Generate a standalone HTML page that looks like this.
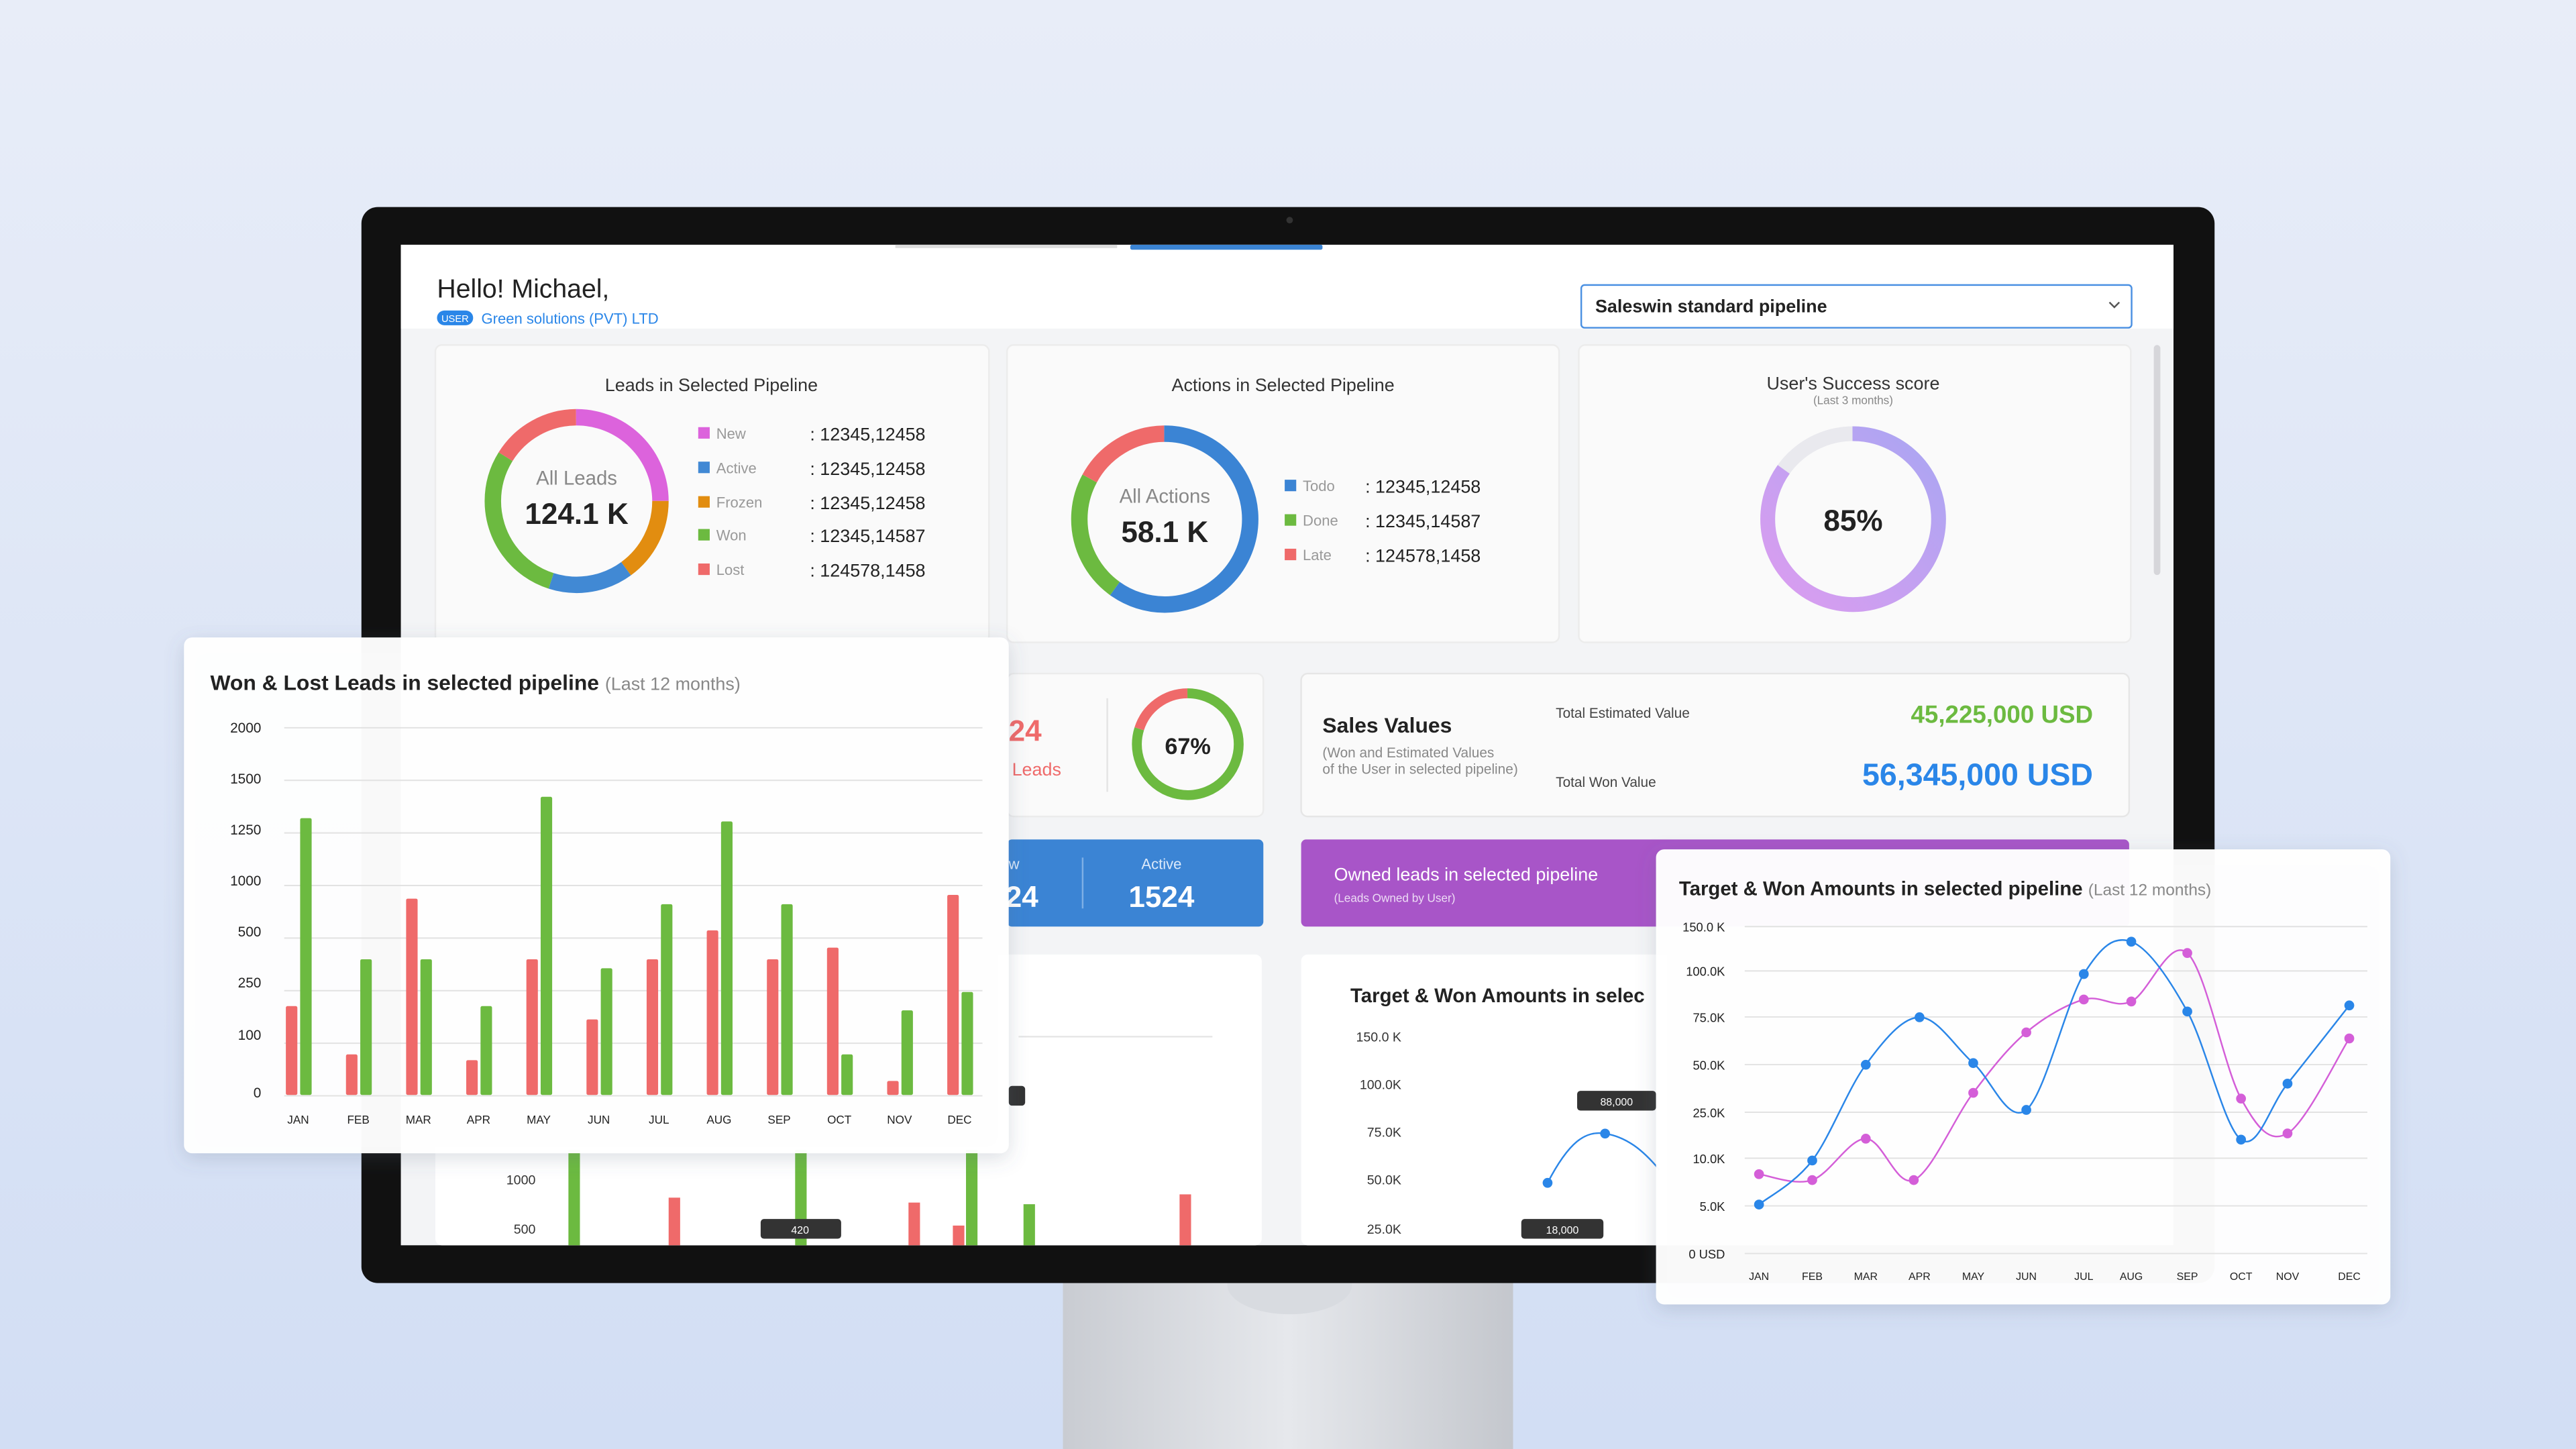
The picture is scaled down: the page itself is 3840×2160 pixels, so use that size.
<!DOCTYPE html>
<html><head><meta charset="utf-8"><style>
html,body{margin:0;padding:0;width:3840px;height:2160px;overflow:hidden;background:#e4eaf7}
svg{display:block}
text{font-family:"Liberation Sans",sans-serif}
</style></head><body>
<svg width="3840" height="2160" viewBox="0 0 1568 882" xmlns="http://www.w3.org/2000/svg">
<defs>
<linearGradient id="bg" x1="0" y1="0" x2="0" y2="1"><stop offset="0" stop-color="#e8edf8"/><stop offset="1" stop-color="#d2def4"/></linearGradient>
<linearGradient id="stand" x1="0" y1="0" x2="1" y2="0"><stop offset="0" stop-color="#c9ccd2"/><stop offset="0.5" stop-color="#e6e8ec"/><stop offset="1" stop-color="#c4c7cd"/></linearGradient>
<linearGradient id="ring" x1="0" y1="0" x2="1" y2="1"><stop offset="0" stop-color="#dc9cf0"/><stop offset="1" stop-color="#a9a6f2"/></linearGradient>
<filter id="sh" x="-10%" y="-10%" width="120%" height="125%"><feDropShadow dx="0" dy="3" stdDeviation="6" flood-color="#55607a" flood-opacity="0.22"/></filter>
</defs>
<rect width="1568" height="882" fill="url(#bg)"/>
<rect x="647" y="770" width="274" height="112" fill="url(#stand)"/>
<ellipse cx="785" cy="782" rx="38" ry="18" fill="#d8dbe0"/>
<rect x="220" y="126" width="1128" height="655" rx="10" fill="#111"/>
<circle cx="785" cy="134" r="2" fill="#333"/>
<rect x="244" y="149" width="1079" height="609" fill="#f3f4f6"/>
<rect x="244" y="149" width="1079" height="51" fill="#fff"/>
<rect x="545" y="149" width="135" height="2" fill="#ddd"/>
<rect x="688" y="149" width="117" height="3" rx="1" fill="#3b84d4"/>
<text x="266" y="181" font-size="16" fill="#222">Hello! Michael,</text>
<rect x="266" y="189" width="22" height="9" rx="4.5" fill="#2a86e8"/>
<text x="277" y="196" font-size="6" fill="#fff" text-anchor="middle">USER</text>
<text x="293" y="197" font-size="9" fill="#2a86e8">Green solutions (PVT) LTD</text>
<rect x="962.5" y="173.5" width="335" height="26" rx="2" fill="#fff" stroke="#4a90e2"/>
<text x="971" y="190" font-size="11" font-weight="bold" fill="#222">Saleswin standard pipeline</text>
<path d="M1284 184 l3 3 l3 -3" fill="none" stroke="#555" stroke-width="1"/>
<rect x="1311" y="210" width="4" height="140" rx="2" fill="#d6d6da"/>
<rect x="265" y="210" width="337" height="181" rx="4" fill="#fafafa" stroke="#ececec"/>
<text x="433" y="238" font-size="11" fill="#333" text-anchor="middle">Leads in Selected Pipeline</text>
<g transform="rotate(-90 351 305)" fill="none" stroke-width="10">
<circle cx="351" cy="305" r="51" pathLength="100" stroke="#dc63dc" stroke-dasharray="25 75"/>
<circle cx="351" cy="305" r="51" pathLength="100" stroke="#e28d10" stroke-dasharray="0 25 15 60"/>
<circle cx="351" cy="305" r="51" pathLength="100" stroke="#4189d4" stroke-dasharray="0 40 15 45"/>
<circle cx="351" cy="305" r="51" pathLength="100" stroke="#6cba40" stroke-dasharray="0 55 29 16"/>
<circle cx="351" cy="305" r="51" pathLength="100" stroke="#ef6a6a" stroke-dasharray="0 84 16 0"/>
</g>
<text x="351" y="295" font-size="12" fill="#888" text-anchor="middle">All Leads</text>
<text x="351" y="319" font-size="18" font-weight="bold" fill="#222" text-anchor="middle">124.1 K</text>
<g font-size="9" fill="#999">
<rect x="425" y="260" width="7" height="7" fill="#dc63dc"/><text x="436" y="267">New</text>
<rect x="425" y="281" width="7" height="7" fill="#4189d4"/><text x="436" y="288">Active</text>
<rect x="425" y="302" width="7" height="7" fill="#e28d10"/><text x="436" y="309">Frozen</text>
<rect x="425" y="322" width="7" height="7" fill="#6cba40"/><text x="436" y="329">Won</text>
<rect x="425" y="343" width="7" height="7" fill="#ef6a6a"/><text x="436" y="350">Lost</text>
</g>
<g font-size="11" fill="#222">
<text x="493" y="268">: 12345,12458</text><text x="493" y="289">: 12345,12458</text><text x="493" y="310">: 12345,12458</text><text x="493" y="330">: 12345,14587</text><text x="493" y="351">: 124578,1458</text>
</g>
<rect x="613" y="210" width="336" height="181" rx="4" fill="#fafafa" stroke="#ececec"/>
<text x="781" y="238" font-size="11" fill="#333" text-anchor="middle">Actions in Selected Pipeline</text>
<g transform="rotate(-90 709 316)" fill="none" stroke-width="10">
<circle cx="709" cy="316" r="52" pathLength="100" stroke="#3b84d4" stroke-dasharray="60 40"/>
<circle cx="709" cy="316" r="52" pathLength="100" stroke="#6cba40" stroke-dasharray="0 60 23 17"/>
<circle cx="709" cy="316" r="52" pathLength="100" stroke="#ef6a6a" stroke-dasharray="0 83 17 0"/>
</g>
<text x="709" y="306" font-size="12" fill="#888" text-anchor="middle">All Actions</text>
<text x="709" y="330" font-size="18" font-weight="bold" fill="#222" text-anchor="middle">58.1 K</text>
<g font-size="9" fill="#999">
<rect x="782" y="292" width="7" height="7" fill="#3b84d4"/><text x="793" y="299">Todo</text>
<rect x="782" y="313" width="7" height="7" fill="#6cba40"/><text x="793" y="320">Done</text>
<rect x="782" y="334" width="7" height="7" fill="#ef6a6a"/><text x="793" y="341">Late</text>
</g>
<g font-size="11" fill="#222"><text x="831" y="300">: 12345,12458</text><text x="831" y="321">: 12345,14587</text><text x="831" y="342">: 124578,1458</text></g>
<rect x="961" y="210" width="336" height="181" rx="4" fill="#fafafa" stroke="#ececec"/>
<text x="1128" y="237" font-size="11" fill="#333" text-anchor="middle">User's Success score</text>
<text x="1128" y="246" font-size="7" fill="#888" text-anchor="middle">(Last 3 months)</text>
<circle cx="1128" cy="316" r="52" fill="none" stroke="#e9e9ee" stroke-width="9"/>
<circle cx="1128" cy="316" r="52" fill="none" stroke="url(#ring)" stroke-width="9" pathLength="100" stroke-dasharray="85 15" transform="rotate(-90 1128 316)"/>
<text x="1128" y="323" font-size="18" font-weight="bold" fill="#222" text-anchor="middle">85%</text>
<rect x="613" y="410" width="156" height="87" rx="4" fill="#fafafa" stroke="#ececec"/>
<text x="614" y="451" font-size="18" font-weight="bold" fill="#ef6a6a">24</text>
<text x="616" y="472" font-size="11" fill="#ef6a6a">Leads</text>
<line x1="674" y1="425" x2="674" y2="482" stroke="#e4e4e4"/>
<g transform="rotate(-90 723 453)" fill="none" stroke-width="6">
<circle cx="723" cy="453" r="31" pathLength="100" stroke="#6cba40" stroke-dasharray="0 0 80 20"/>
<circle cx="723" cy="453" r="31" pathLength="100" stroke="#ef6a6a" stroke-dasharray="0 80 20 0"/>
</g>
<text x="723" y="459" font-size="14" font-weight="bold" fill="#222" text-anchor="middle">67%</text>
<rect x="792" y="410" width="504" height="87" rx="4" fill="#fafafa" stroke="#e6e6e6"/>
<text x="805" y="446" font-size="13" font-weight="bold" fill="#222">Sales Values</text>
<g font-size="8.5" fill="#888"><text x="805" y="461">(Won and Estimated Values</text><text x="805" y="471">of the User in selected pipeline)</text></g>
<text x="947" y="437" font-size="8.5" fill="#444">Total Estimated Value</text>
<text x="1274" y="440" font-size="15" font-weight="bold" fill="#6cba40" text-anchor="end">45,225,000 USD</text>
<text x="947" y="479" font-size="8.5" fill="#444">Total Won Value</text>
<text x="1274" y="478" font-size="19" font-weight="bold" fill="#2a86e8" text-anchor="end">56,345,000 USD</text>
<rect x="613" y="511" width="156" height="53" rx="3" fill="#3b84d4"/>
<line x1="659" y1="522" x2="659" y2="553" stroke="#7fb0e6"/>
<text x="614" y="529" font-size="9" fill="#dbe9fa">w</text>
<text x="612" y="552" font-size="18" font-weight="bold" fill="#fff">24</text>
<text x="707" y="529" font-size="9" fill="#dbe9fa" text-anchor="middle">Active</text>
<text x="707" y="552" font-size="18" font-weight="bold" fill="#fff" text-anchor="middle">1524</text>
<rect x="792" y="511" width="504" height="53" rx="3" fill="#a855c8"/>
<text x="812" y="536" font-size="11" fill="#fff">Owned leads in selected pipeline</text>
<text x="812" y="549" font-size="7" fill="#eddcf5">(Leads Owned by User)</text>
<rect x="265" y="581" width="503" height="177" rx="4" fill="#fff"/>
<rect x="792" y="581" width="300" height="177" rx="4" fill="#fff"/>
<line x1="620" y1="631" x2="738" y2="631" stroke="#e6e6e6"/>
<text x="822" y="610" font-size="12" font-weight="bold" fill="#222">Target &amp; Won Amounts in selec</text>
<g font-size="8" fill="#333" text-anchor="end"><text x="853" y="634">150.0 K</text><text x="853" y="663">100.0K</text><text x="853" y="692">75.0K</text><text x="853" y="721">50.0K</text><text x="853" y="751">25.0K</text></g>
<path d="M942 720 C955 695 965 688 977 690 C990 692 1000 700 1010 712" fill="none" stroke="#2a86e8" stroke-width="1"/>
<circle cx="942" cy="720" r="3" fill="#2a86e8"/><circle cx="977" cy="690" r="3" fill="#2a86e8"/>
<rect x="960" y="664" width="48" height="12" rx="2" fill="#333"/><text x="984" y="673" font-size="6.5" fill="#fff" text-anchor="middle">88,000</text>
<rect x="926" y="742" width="50" height="12" rx="2" fill="#333"/><text x="951" y="751" font-size="6.5" fill="#fff" text-anchor="middle">18,000</text>
<g font-size="8" fill="#333" text-anchor="end"><text x="326" y="721">1000</text><text x="326" y="751">500</text></g>
<rect x="346" y="700" width="7" height="58" fill="#6cba40"/>
<rect x="407" y="729" width="7" height="29" fill="#ef6a6a"/>
<rect x="484" y="700" width="7" height="58" fill="#6cba40"/>
<rect x="553" y="732" width="7" height="26" fill="#ef6a6a"/>
<rect x="580" y="746" width="7" height="12" fill="#ef6a6a"/>
<rect x="588" y="700" width="7" height="58" fill="#6cba40"/>
<rect x="623" y="733" width="7" height="25" fill="#6cba40"/>
<rect x="718" y="727" width="7" height="31" fill="#ef6a6a"/>
<rect x="463" y="742" width="49" height="12" rx="2" fill="#333"/><text x="487" y="751" font-size="6.5" fill="#fff" text-anchor="middle">420</text>
<rect x="614" y="661" width="10" height="12" rx="2" fill="#333"/>
<rect x="112" y="388" width="502" height="314" rx="5" fill="#fff" fill-opacity="0.97" filter="url(#sh)"/>
<text x="128" y="420" font-size="13" font-weight="bold" fill="#222">Won &amp; Lost Leads in selected pipeline <tspan font-weight="normal" font-size="11" fill="#888">(Last 12 months)</tspan></text>
<g stroke="#e2e2e2" stroke-width="0.8">
<line x1="173" y1="443" x2="598" y2="443"/><line x1="173" y1="475" x2="598" y2="475"/><line x1="173" y1="507" x2="598" y2="507"/><line x1="173" y1="539" x2="598" y2="539"/><line x1="173" y1="571" x2="598" y2="571"/><line x1="173" y1="603" x2="598" y2="603"/><line x1="173" y1="635" x2="598" y2="635"/><line x1="173" y1="667" x2="598" y2="667"/>
</g>
<g font-size="8.5" fill="#222" text-anchor="end">
<text x="159" y="446">2000</text><text x="159" y="477">1500</text><text x="159" y="508">1250</text><text x="159" y="539">1000</text><text x="159" y="570">500</text><text x="159" y="601">250</text><text x="159" y="633">100</text><text x="159" y="668">0</text>
</g>
<g id="bars"></g>
<g font-size="7" fill="#222" text-anchor="middle" id="blab"></g>
<rect x="1008" y="517" width="447" height="277" rx="5" fill="#fff" fill-opacity="0.97" filter="url(#sh)"/>
<text x="1022" y="545" font-size="12" font-weight="bold" fill="#222">Target &amp; Won Amounts in selected pipeline <tspan font-weight="normal" font-size="10" fill="#888">(Last 12 months)</tspan></text>
<g stroke="#e2e2e2" stroke-width="0.8">
<line x1="1062" y1="564" x2="1441" y2="564"/><line x1="1062" y1="591" x2="1441" y2="591"/><line x1="1062" y1="619" x2="1441" y2="619"/><line x1="1062" y1="648" x2="1441" y2="648"/><line x1="1062" y1="677" x2="1441" y2="677"/><line x1="1062" y1="705" x2="1441" y2="705"/><line x1="1062" y1="734" x2="1441" y2="734"/><line x1="1062" y1="763" x2="1441" y2="763"/>
</g>
<g font-size="7.5" fill="#222" text-anchor="end">
<text x="1050" y="567">150.0 K</text><text x="1050" y="594">100.0K</text><text x="1050" y="622">75.0K</text><text x="1050" y="651">50.0K</text><text x="1050" y="680">25.0K</text><text x="1050" y="708">10.0K</text><text x="1050" y="737">5.0K</text><text x="1050" y="766">0 USD</text>
</g>
<path id="pinkp" fill="none" stroke="#d45ed8" stroke-width="1"/>
<path id="bluep" fill="none" stroke="#2a86e8" stroke-width="1"/>
<g id="dots"></g>
<g font-size="6.5" fill="#222" text-anchor="middle" id="llab"></g>
</svg>
<script>
var NS="http://www.w3.org/2000/svg";
function el(p,t,a,txt){var e=document.createElementNS(NS,t);for(var k in a)e.setAttribute(k,a[k]);if(txt)e.textContent=txt;p.appendChild(e);return e;}
var M=["JAN","FEB","MAR","APR","MAY","JUN","JUL","AUG","SEP","OCT","NOV","DEC"];
var red=[612.4,641.8,547,645.3,583.9,620.5,583.9,566.3,583.9,576.8,658,544.7];
var grn=[498,583.9,583.9,612.4,485,589.4,550.4,500,550.4,641.8,615,603.8];
var bars=document.getElementById("bars"),bl=document.getElementById("blab");
for(var i=0;i<12;i++){var x=174+i*36.6;
el(bars,"rect",{x:x,y:red[i],width:7,height:666.5-red[i],rx:1,fill:"#ef6a6a"});
el(bars,"rect",{x:x+8.7,y:grn[i],width:7,height:666.5-grn[i],rx:1,fill:"#6cba40"});
el(bl,"text",{x:x+7.5,y:684},M[i]);}
var bx=[1070.7,1103.1,1135.7,1168.4,1201.1,1233.4,1268.4,1297.3,1331.4,1364.1,1392.4,1430];
var by=[733.2,706.4,648.1,619.2,647.1,675.6,592.9,573.2,615.7,693.7,659.6,612];
var px=[1070.7,1103.1,1135.7,1164.9,1201.1,1233.4,1268.4,1297.3,1331.4,1364.1,1392.4,1430];
var py=[714.7,718.3,693.1,718.3,665.2,628.4,608.4,609.6,580.1,668.7,689.9,632.1];
function cr(X,Y){var d="M"+X[0]+" "+Y[0];for(var i=0;i<X.length-1;i++){var i0=Math.max(0,i-1),i3=Math.min(X.length-1,i+2);
var c1x=X[i]+(X[i+1]-X[i0])/6,c1y=Y[i]+(Y[i+1]-Y[i0])/6,c2x=X[i+1]-(X[i3]-X[i])/6,c2y=Y[i+1]-(Y[i3]-Y[i])/6;
d+=" C"+c1x+" "+c1y+" "+c2x+" "+c2y+" "+X[i+1]+" "+Y[i+1];}return d;}
document.getElementById("bluep").setAttribute("d",cr(bx,by));
document.getElementById("pinkp").setAttribute("d",cr(px,py));
var dots=document.getElementById("dots"),ll=document.getElementById("llab");
for(var i=0;i<12;i++){el(dots,"circle",{cx:px[i],cy:py[i],r:3,fill:"#d45ed8"});el(dots,"circle",{cx:bx[i],cy:by[i],r:3,fill:"#2a86e8"});
el(ll,"text",{x:bx[i],y:779},M[i]);}
</script>
</body></html>
